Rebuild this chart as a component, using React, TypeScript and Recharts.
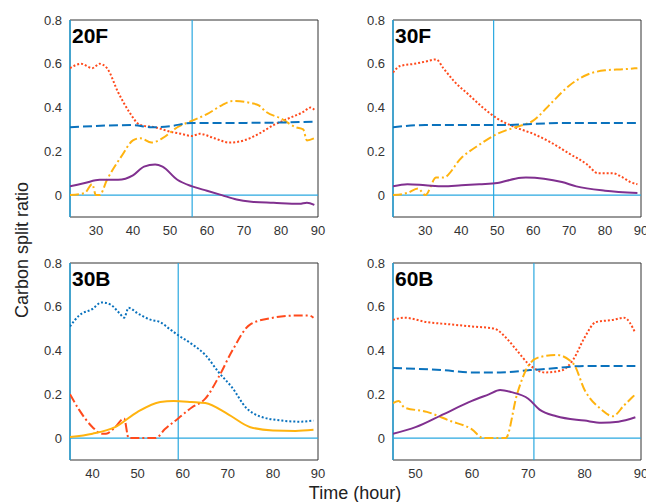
import React from "react";
import { LineChart, Line, XAxis, YAxis, ReferenceLine, ReferenceArea } from "recharts";

const RED = "#ff4a1c", YEL = "#ffb30f", BLU = "#0a72bd", PUR = "#80308f", LB = "#2aa8e0";

// 20F
const p1RedX = [23, 26, 29, 31, 33, 36, 39, 42, 46, 50, 53, 56, 58, 62, 66, 70, 74, 78, 82, 86, 88, 89];
const p1RedY = [.58, .60, .58, .60, .58, .47, .38, .32, .31, .29, .28, .27, .28, .26, .24, .25, .28, .32, .35, .38, .40, .39];
const p1YelX = [23, 27, 29, 30, 31, 33, 37, 40, 42, 45, 48, 52, 56, 60, 64, 67, 72, 74, 76, 80, 84, 86, 87, 89];
const p1YelY = [0, .01, .05, 0, 0, .07, .18, .25, .26, .24, .26, .31, .34, .37, .41, .43, .42, .41, .38, .35, .31, .30, .25, .26];
const p1BluX = [23, 40, 45, 50, 56, 70, 89];
const p1BluY = [.31, .32, .31, .315, .33, .33, .335];
const p1PurX = [23, 27, 31, 36, 40, 43, 46, 48, 52, 56, 60, 64, 68, 72, 78, 85, 87, 89];
const p1PurY = [.04, .055, .07, .07, .09, .13, .14, .13, .07, .04, .02, 0, -.02, -.03, -.035, -.04, -.035, -.045];
// 30F
const p2RedX = [21, 23, 27, 30, 33, 35, 38, 42, 46, 50, 55, 60, 65, 70, 75, 78, 82, 85, 87, 89];
const p2RedY = [.56, .59, .60, .61, .62, .58, .52, .46, .40, .35, .31, .28, .24, .19, .14, .10, .10, .08, .06, .05];
const p2YelX = [21, 25, 28, 30, 33, 35, 40, 45, 50, 55, 60, 65, 70, 75, 80, 85, 89];
const p2YelY = [0, .01, .03, 0, .08, .08, .17, .23, .28, .31, .34, .42, .50, .55, .57, .575, .58];
const p2BluX = [21, 30, 50, 70, 89];
const p2BluY = [.31, .32, .32, .33, .33];
const p2PurX = [21, 25, 30, 35, 40, 45, 50, 55, 58, 63, 68, 72, 80, 89];
const p2PurY = [.04, .05, .045, .04, .045, .05, .055, .075, .08, .075, .06, .04, .02, .01];
// 30B
const p3BluX = [35, 37, 40, 42, 44, 46, 47, 48, 50, 53, 55, 57, 59, 62, 65, 68, 71, 74, 77, 82, 86, 89];
const p3BluY = [.51, .56, .59, .62, .61, .57, .55, .595, .57, .54, .53, .50, .47, .43, .38, .30, .23, .14, .10, .08, .075, .08];
const p3RedX = [35, 37, 40, 42, 43, 45, 47, 48, 54, 56, 59, 62, 65, 68, 71, 75, 80, 85, 88, 89];
const p3RedY = [.20, .13, .05, .02, .02, .05, .09, 0, 0, .04, .09, .14, .18, .28, .40, .52, .55, .56, .56, .55];
const p3YelX = [35, 40, 45, 50, 55, 58, 62, 65, 70, 75, 80, 85, 89];
const p3YelY = [.005, .02, .05, .12, .165, .17, .165, .16, .11, .05, .035, .033, .038];
// 60B
const p4RedX = [46, 48, 52, 56, 60, 64, 66, 68, 70, 73, 76, 78, 80, 82, 85, 87, 89];
const p4RedY = [.54, .55, .53, .52, .51, .50, .46, .40, .34, .30, .31, .36, .46, .53, .54, .55, .48];
const p4BluX = [46, 55, 60, 65, 70, 75, 80, 89];
const p4BluY = [.32, .31, .30, .30, .31, .32, .33, .33];
const p4YelX = [46, 47, 48, 52, 56, 60, 62, 66, 68, 70, 72, 75, 78, 80, 83, 85, 87, 89];
const p4YelY = [.16, .17, .14, .12, .08, .04, 0, 0, .20, .33, .37, .38, .34, .22, .13, .10, .15, .20];
const p4PurX = [46, 50, 55, 60, 63, 65, 67, 70, 72, 75, 80, 83, 86, 89];
const p4PurY = [.02, .05, .11, .17, .20, .22, .21, .18, .13, .10, .08, .07, .075, .095];

const zip = (xs: number[], ys: number[]) => xs.map((x, i) => ({ x, y: ys[i] }));
const DOT = "2 2", DASH = "9 4", DASHDOT = "9 3 2 3";

type S = { xs: number[]; ys: number[]; color: string; dash?: string };

function Panel(props: { left: number; top: number; xmin: number; ticks: number[]; vline: number; label: string; series: S[] }) {
  const { left, top, xmin, ticks, vline, label, series } = props;
  return (
    <div style={{ position: "absolute", left, top }}>
      <LineChart width={330} height={245} margin={{ top: 20, right: 12, bottom: 3, left: 0 }}>
        <XAxis type="number" dataKey="x" domain={[xmin, 90]} ticks={ticks} allowDataOverflow axisLine={false}
          tickLine={false} height={25} tick={{ fontSize: 13, fill: "#333", fontFamily: "Arial" }} tickMargin={3} />
        <YAxis type="number" domain={[-0.1, 0.8]} ticks={[0, 0.2, 0.4, 0.6, 0.8]} allowDataOverflow width={70} axisLine={false}
          tickLine={false} tick={{ fontSize: 13, fill: "#333", fontFamily: "Arial" }} tickFormatter={(v) => (v === 0 ? "0" : String(v))} />
        <ReferenceArea x1={xmin} x2={90} y1={-0.1} y2={0.8} fill="none" stroke="#333" strokeWidth={1} />
        <ReferenceLine y={0} stroke={LB} strokeWidth={1.2} />
        <ReferenceLine x={xmin} stroke={LB} strokeWidth={1.5} />
        <ReferenceLine x={vline} stroke={LB} strokeWidth={1.2} />
        {series.map((s, i) => (
          <Line key={i} data={zip(s.xs, s.ys)} dataKey="y" type="monotone" stroke={s.color} strokeWidth={2}
            strokeDasharray={s.dash} dot={false} isAnimationActive={false} />
        ))}
      </LineChart>
      <div style={{ position: "absolute", left: 72, top: 24, fontFamily: "Arial", fontWeight: "bold", fontSize: 21 }}>{label}</div>
    </div>
  );
}

export default function App() {
  return (
    <div style={{ position: "absolute", left: 0, top: 0, width: 646, height: 502, background: "#fff", fontFamily: "Arial" }}>
      <Panel left={0} top={0} xmin={23} ticks={[30, 40, 50, 60, 70, 80, 90]} vline={56} label="20F" series={[
        { xs: p1RedX, ys: p1RedY, color: RED, dash: DOT },
        { xs: p1YelX, ys: p1YelY, color: YEL, dash: DASHDOT },
        { xs: p1BluX, ys: p1BluY, color: BLU, dash: DASH },
        { xs: p1PurX, ys: p1PurY, color: PUR },
      ]} />
      <Panel left={323} top={0} xmin={21} ticks={[30, 40, 50, 60, 70, 80, 90]} vline={49} label="30F" series={[
        { xs: p2RedX, ys: p2RedY, color: RED, dash: DOT },
        { xs: p2YelX, ys: p2YelY, color: YEL, dash: DASHDOT },
        { xs: p2BluX, ys: p2BluY, color: BLU, dash: DASH },
        { xs: p2PurX, ys: p2PurY, color: PUR },
      ]} />
      <Panel left={0} top={243} xmin={35} ticks={[40, 50, 60, 70, 80, 90]} vline={59} label="30B" series={[
        { xs: p3BluX, ys: p3BluY, color: BLU, dash: DOT },
        { xs: p3RedX, ys: p3RedY, color: RED, dash: DASHDOT },
        { xs: p3YelX, ys: p3YelY, color: YEL },
      ]} />
      <Panel left={323} top={243} xmin={46} ticks={[50, 60, 70, 80, 90]} vline={71} label="60B" series={[
        { xs: p4RedX, ys: p4RedY, color: RED, dash: DOT },
        { xs: p4BluX, ys: p4BluY, color: BLU, dash: DASH },
        { xs: p4YelX, ys: p4YelY, color: YEL, dash: DASHDOT },
        { xs: p4PurX, ys: p4PurY, color: PUR },
      ]} />
      <div style={{ position: "absolute", left: 22, top: 250, transform: "translate(-50%,-50%) rotate(-90deg)", whiteSpace: "nowrap", fontSize: 18, color: "#222" }}>Carbon split ratio</div>
      <div style={{ position: "absolute", left: 355, top: 493, transform: "translate(-50%,-50%)", whiteSpace: "nowrap", fontSize: 18, color: "#222" }}>Time (hour)</div>
    </div>
  );
}
